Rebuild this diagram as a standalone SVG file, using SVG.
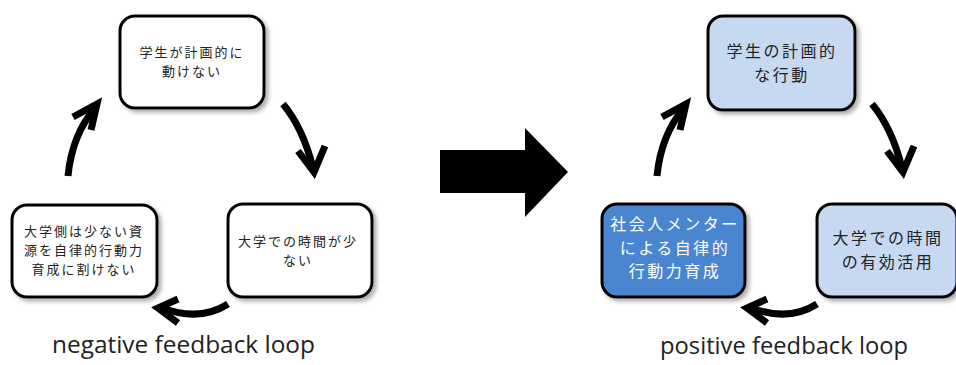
<svg xmlns="http://www.w3.org/2000/svg" width="956" height="365" viewBox="0 0 956 365">
<style>
.box{stroke:#000;stroke-width:3;filter:url(#sh)}
.w{fill:#fff}
.lb{fill:#c6d9f1}
.db{fill:#4a86cf}
.t{font-family:"Noto Sans CJK JP","Noto Sans",sans-serif;text-anchor:middle;fill:#222}
.s{font-size:13px;letter-spacing:2px}
.l{font-size:16px;letter-spacing:2.5px}
.wt{fill:#fff}
.cap{font-family:"Open Sans","Liberation Sans",sans-serif;font-size:23px;fill:#222}
.shaft{fill:none;stroke:#000;stroke-width:7}
.head{fill:none;stroke:#000;stroke-width:7;stroke-linejoin:miter}
</style>
<defs>
<filter id="sh" x="-10%" y="-10%" width="125%" height="130%">
<feDropShadow dx="3" dy="3" stdDeviation="2" flood-color="#777" flood-opacity="0.6"/>
</filter>
<g id="arrows">
<path class="shaft" d="M283,104 Q303,128 313,168"/>
<path class="head" d="M298,151 L314,172 L325,146"/>
<path class="shaft" d="M228,304 Q200,322 162,308"/>
<path class="head" d="M178,299 L158,308 L178,323"/>
<path class="shaft" d="M68,176 Q72,135 95,108"/>
<path class="head" d="M73,117 L97,104 L91,130"/>
</g>
</defs>

<g id="neg-top"><rect class="box w" x="120" y="16" width="144" height="92" rx="15"/>
<text class="t s" x="192" y="57">学生が計画的に<tspan x="192" dy="19">動けない</tspan></text></g>
<g id="neg-right"><rect class="box w" x="228" y="204" width="144" height="93" rx="15"/>
<text class="t s" x="298" y="246">大学での時間が少<tspan x="298" dy="19">ない</tspan></text></g>
<g id="neg-left"><rect class="box w" x="12" y="205" width="145" height="92" rx="15"/>
<text class="t s" x="84" y="236">大学側は少ない資<tspan x="84" dy="19">源を自律的行動力</tspan><tspan x="84" dy="19">育成に割けない</tspan></text></g>

<g id="pos-top"><rect class="box lb" x="708" y="16" width="147" height="94" rx="15"/>
<text class="t l" x="782" y="57">学生の計画的<tspan x="782" dy="24">な行動</tspan></text></g>
<g id="pos-right"><rect class="box lb" x="817" y="204" width="140" height="93" rx="15"/>
<text class="t l" x="888" y="244">大学での時間<tspan x="888" dy="24">の有効活用</tspan></text></g>
<g id="pos-left"><rect class="box db" x="602" y="204" width="143" height="93" rx="15"/>
<text class="t l wt" x="675" y="230">社会人メンター<tspan x="675" dy="23.5">による自律的</tspan><tspan x="675" dy="23.5">行動力育成</tspan></text></g>

<g id="connectors">
<use href="#arrows"/>
<use href="#arrows" transform="translate(589,0)"/>
<polygon id="big-arrow" points="440,150 525,150 525,128 568,172 525,217 525,193 440,193" fill="#000"/>
</g>

<text class="cap" x="52" y="353" textLength="263" lengthAdjust="spacingAndGlyphs">negative feedback loop</text>
<text class="cap" x="660" y="354" textLength="248" lengthAdjust="spacingAndGlyphs">positive feedback loop</text>
</svg>
